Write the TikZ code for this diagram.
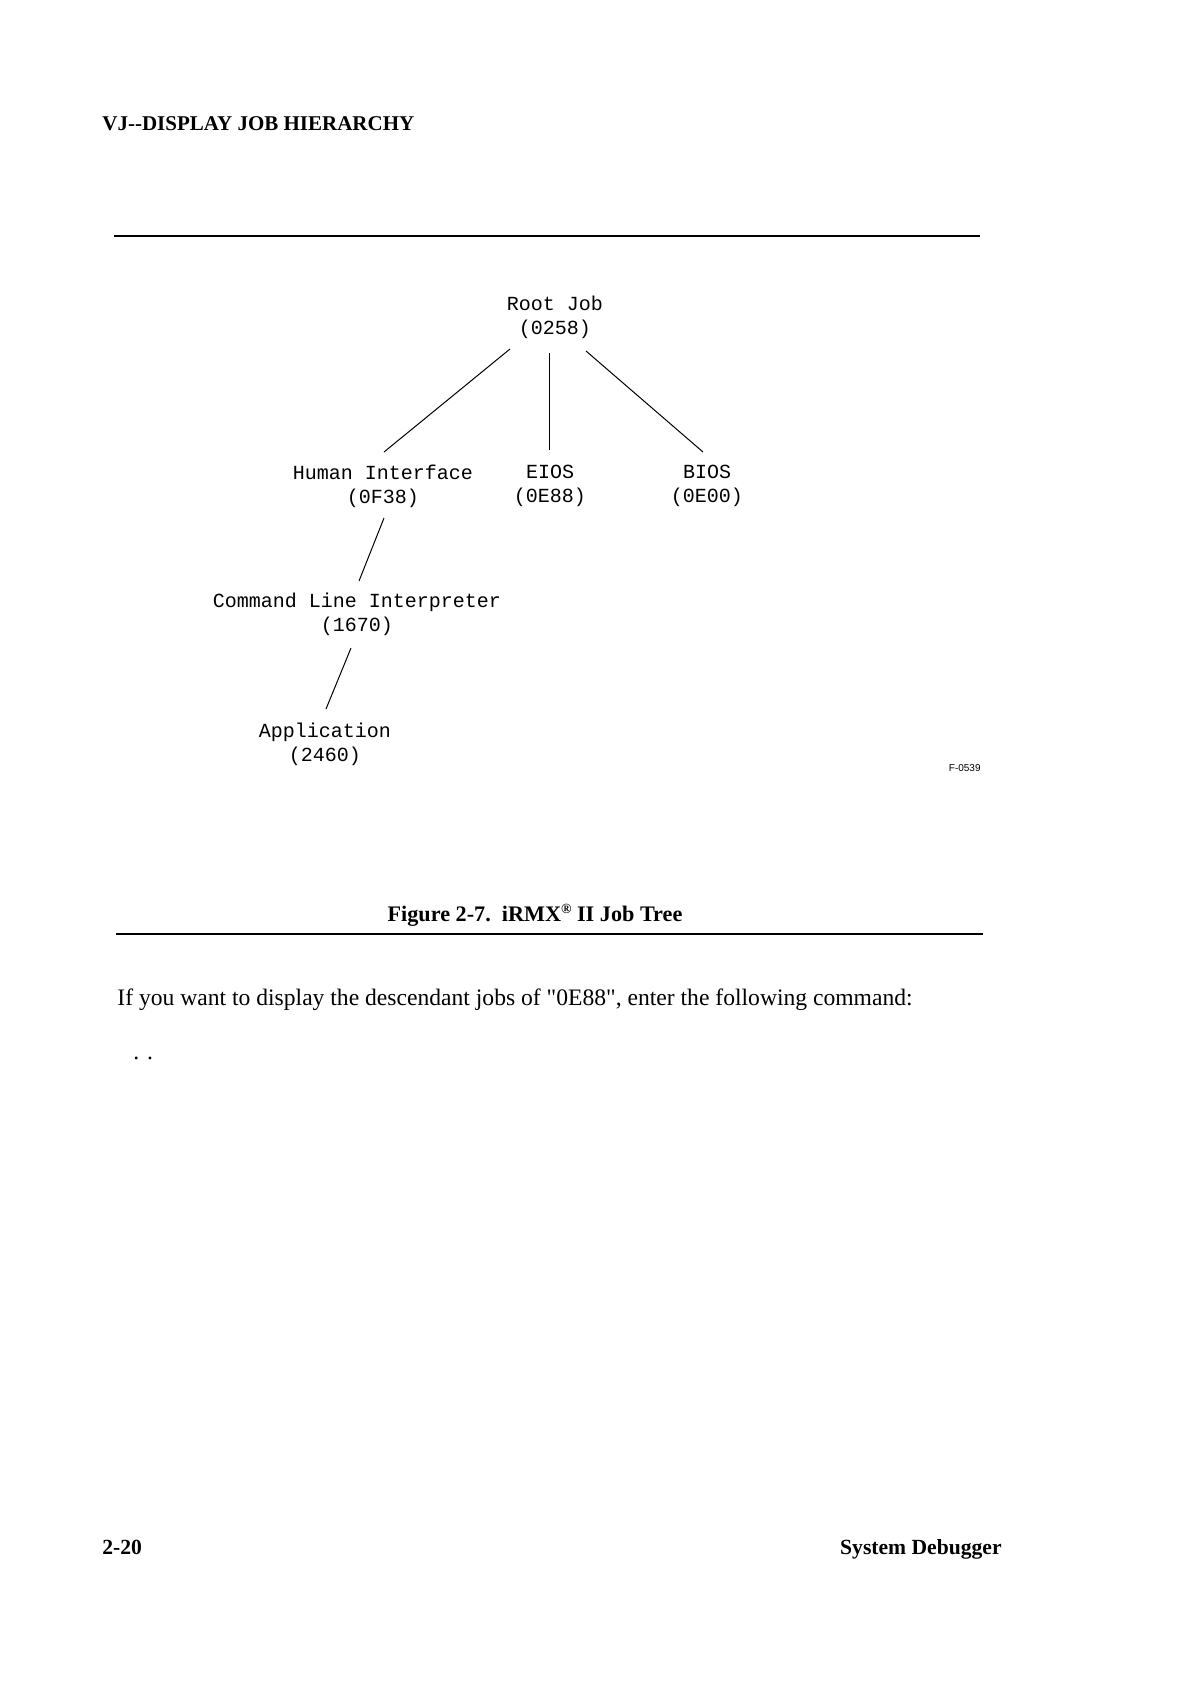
\documentclass[tikz,border=0pt]{standalone}
\usepackage{fontspec}
\setmainfont{Liberation Serif}
\newfontfamily\jobfont{Liberation Mono}
\newfontfamily\tagfont{Liberation Sans}
\font\qfont="Liberation Serif" at 11.8pt
\usetikzlibrary{calc}
\begin{document}
\begin{tikzpicture}[x=0.5pt,y=-0.5pt,
  job/.style={font=\jobfont\fontsize{10}{12}\selectfont, align=center, inner sep=0pt, anchor=center},
  branch/.style={line width=0.5pt},
  rulebar/.style={line width=1pt},
  body/.style={inner sep=0pt, font=\fontsize{11.8}{14}\selectfont},
  heading/.style={inner sep=0pt, font=\bfseries\fontsize{10.5}{12}\selectfont},
  boldtext/.style={inner sep=0pt, font=\bfseries\fontsize{10.8}{13}\selectfont}]
\useasboundingbox[fill=white] (0,0) rectangle (1190,1683);

% heading and rules
\node[heading, anchor=base west] (title) at (102,130) {VJ-{}-DISPLAY JOB HIERARCHY};
\draw[rulebar] (114,236) -- (980,236);

% job tree
\node[job] (root) at (555,317) {Root Job\\(0258)};
\node[job] (hi)   at (383,486) {Human Interface\\(0F38)};
\node[job] (eios) at (550,486) {EIOS\\(0E88)};
\node[job] (bios) at (707,486) {BIOS\\(0E00)};
\node[job] (cli)  at (357,614) {Command Line Interpreter\\(1670)};
\node[job] (app)  at (325,744) {Application\\(2460)};

\draw[branch] ($(root)+(-45,32)$) -- ($(hi)+(1,-34)$);
\draw[branch] ($(root)+(-6,36)$)  -- ($(eios)+(-1,-36)$);
\draw[branch] ($(root)+(31,34)$)  -- ($(bios)+(-4,-34)$);
\draw[branch] ($(hi)+(1,32)$)     -- ($(cli)+(2,-33)$);
\draw[branch] ($(cli)+(-6,34)$)   -- ($(app)+(1,-35)$);

\node[inner sep=0pt, font=\tagfont\fontsize{5}{6}\selectfont, anchor=base east] (tag) at (981,771) {F-0539};

% caption
\node[boldtext, anchor=base, font=\bfseries\fontsize{11.1}{13}\selectfont] (caption) at (535,921) {Figure 2-7.\ \ iRMX\raisebox{0.35em}{\fontsize{7}{8}\selectfont ®} II Job Tree};
\draw[rulebar] (116,934) -- (983,934);

% body text
\node[body, anchor=base west] (para) at (117,1005) {If you want to display the descendant jobs of {\qfont\char34}0E88{\qfont\char34}, enter the following command:};
\node[body, anchor=base west] (dots) at (133,1059) {. .};

% footer
\node[boldtext, anchor=base west] (pageno) at (102,1554) {2-20};
\node[boldtext, anchor=base east] (book) at (1002,1554) {System Debugger};
\end{tikzpicture}
\end{document}
